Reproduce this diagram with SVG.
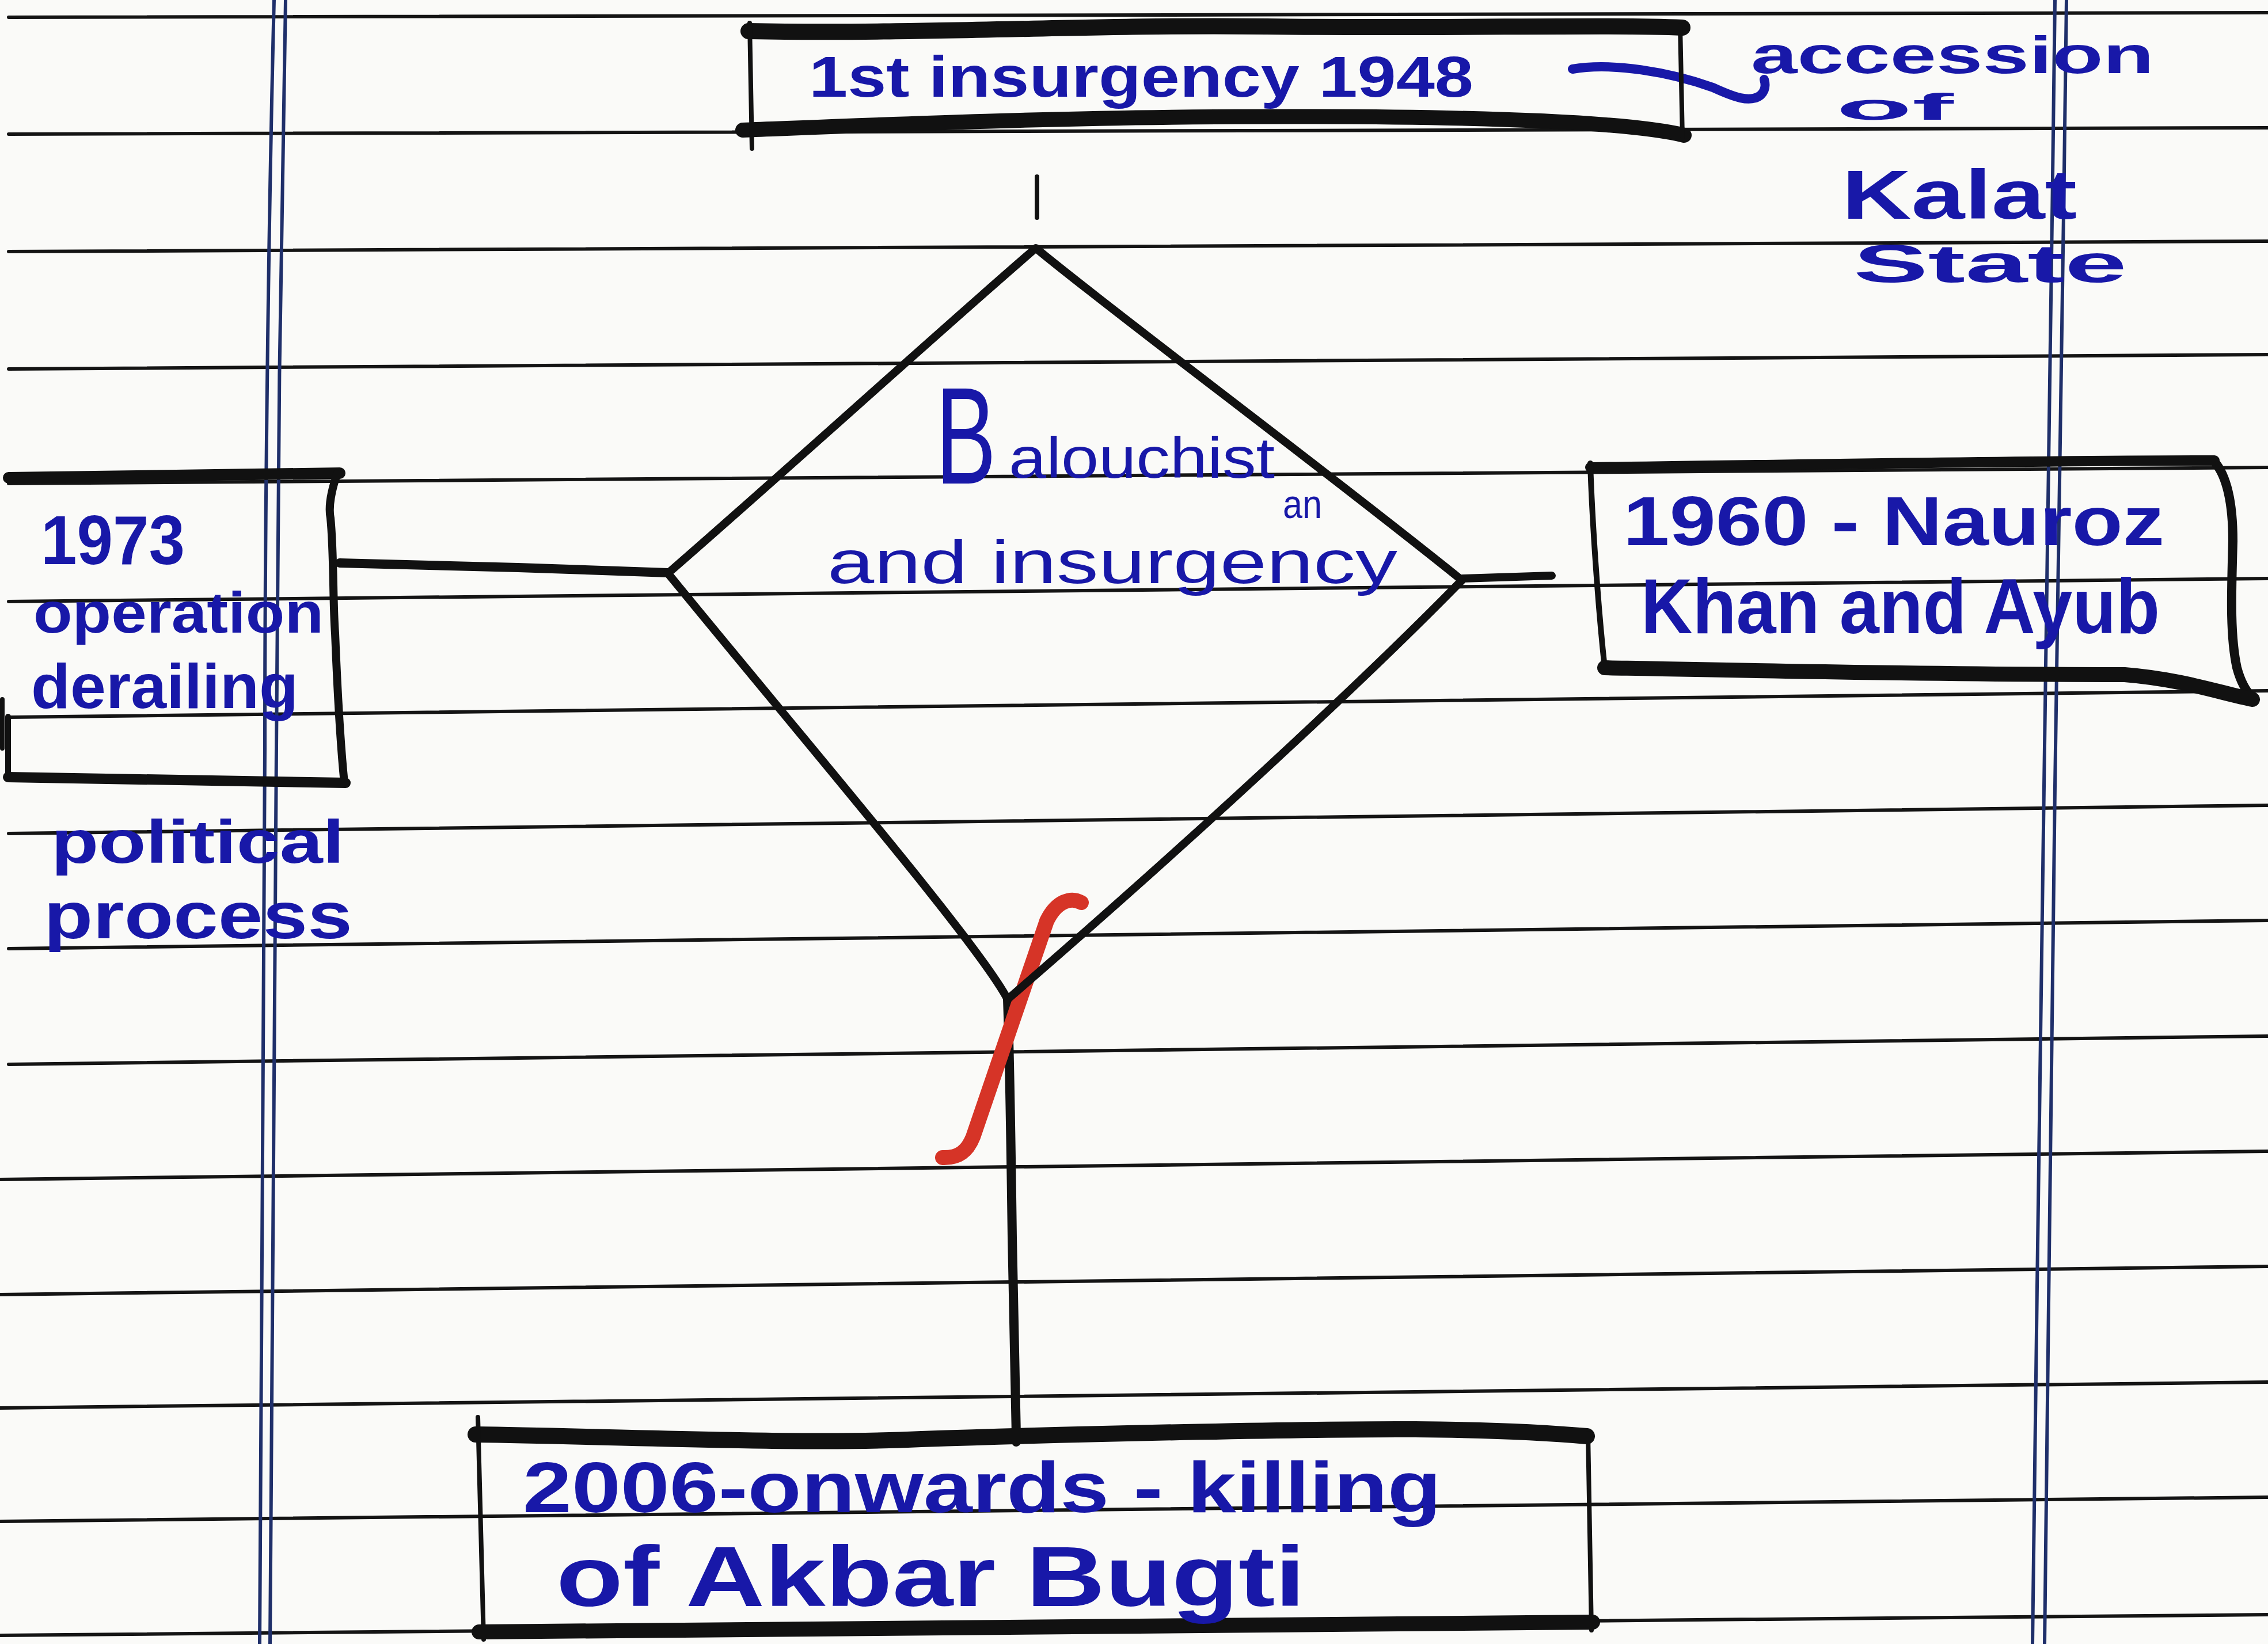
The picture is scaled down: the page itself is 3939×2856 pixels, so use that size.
<svg xmlns="http://www.w3.org/2000/svg" width="3939" height="2856" viewBox="0 0 3939 2856">
  <style>
    .rule { fill: none; stroke: #141414; stroke-width: 6; stroke-linecap: round; }
    .margin { fill: none; stroke: #1f2f6a; stroke-width: 6; }
    .ink { fill: none; stroke: #111; stroke-linecap: round; stroke-linejoin: round; }
    .pen { fill: #1818a8; font-family: "Liberation Sans", "DejaVu Sans", sans-serif; font-weight: 700; }
    .thin { font-weight: 400; }
    .blue { fill: none; stroke: #1818a8; stroke-linecap: round; stroke-linejoin: round; }
  </style>

  <!-- ruled notebook paper -->
  <rect width="3939" height="2856" fill="#fafaf8"/>
  <g id="paper">
    <path class="rule" d="M15,30 L3939,22"/>
    <path class="rule" d="M15,233 L3939,222"/>
    <path class="rule" d="M15,437 L3939,419"/>
    <path class="rule" d="M15,641 L3939,616"/>
    <path class="rule" d="M15,840 L3939,812"/>
    <path class="rule" d="M15,1045 L3939,1005"/>
    <path class="rule" d="M15,1246 L3939,1200"/>
    <path class="rule" d="M15,1448 L3939,1399"/>
    <path class="rule" d="M15,1648 L3939,1599"/>
    <path class="rule" d="M15,1849 L3939,1800"/>
    <path class="rule" d="M0,2049 L3939,2000"/>
    <path class="rule" d="M0,2249 L3939,2200"/>
    <path class="rule" d="M0,2446 L3939,2401"/>
    <path class="rule" d="M0,2643 L3939,2601"/>
    <path class="rule" d="M0,2841 L3939,2805"/>
    <path class="margin" d="M476,0 C466,400 460,900 460,1300 S452,2400 451,2856"/>
    <path class="margin" d="M496,0 C488,400 481,900 480,1300 S471,2400 469,2856"/>
    <path class="margin" d="M3569,0 C3563,500 3553,1100 3550,1366 S3535,2400 3530,2856"/>
    <path class="margin" d="M3589,0 C3583,500 3572,1100 3569,1366 S3556,2400 3551,2856"/>
  </g>

  <!-- connectors -->
  <g id="connectors">
    <path class="blue" stroke-width="16" d="M2731,120 C2800,108 2900,125 2975,152 C3010,168 3040,180 3058,165 C3068,155 3066,145 3064,138"/>
    <path class="ink" stroke-width="8" d="M1801,307 L1801,378"/>
    <path class="ink" stroke-width="16" d="M590,978 L900,986 L1160,995"/>
    <path class="ink" stroke-width="14" d="M2540,1005 L2695,1000"/>
    <path class="ink" stroke-width="16" d="M1750,1736 C1754,1850 1756,2000 1758,2150 S1764,2400 1765,2505"/>
    <path fill="none" stroke="#d63427" stroke-width="26" stroke-linecap="round" stroke-linejoin="round" d="M1878,1568 C1860,1558 1835,1565 1818,1600 L1690,1975 C1680,2000 1665,2012 1637,2011"/>
  </g>

  <!-- 1st insurgency 1948 -->
  <g id="node-1948">
    <path class="ink" stroke-width="28" d="M1300,54 C1600,60 1900,42 2200,46 S2800,42 2922,48"/>
    <path class="ink" stroke-width="26" d="M1290,226 C1500,218 1800,205 2111,203 S2800,205 2925,235"/>
    <path class="ink" stroke-width="8" d="M1302,40 L1306,258"/>
    <path class="ink" stroke-width="8" d="M2918,44 L2922,238"/>
    <text class="pen" x="1405" y="168" font-size="100" textLength="1154" lengthAdjust="spacingAndGlyphs">1st insurgency 1948</text>
  </g>

  <!-- accession of Kalat State -->
  <g id="note-kalat">
    <text class="pen" x="3041" y="127" font-size="90" textLength="700" lengthAdjust="spacingAndGlyphs">accession</text>
    <text class="pen" x="3189" y="208" font-size="65" textLength="204" lengthAdjust="spacingAndGlyphs">of</text>
    <text class="pen" x="3199" y="380" font-size="120" textLength="408" lengthAdjust="spacingAndGlyphs">Kalat</text>
    <text class="pen" x="3219" y="490" font-size="92" textLength="475" lengthAdjust="spacingAndGlyphs">State</text>
  </g>

  <!-- central diamond -->
  <g id="node-balochistan">
    <path class="ink" stroke-width="14" d="M1799,431 C1930,540 2300,815 2539,1008 C2420,1130 2150,1390 1750,1736 C1700,1640 1400,1290 1160,996 C1340,840 1660,550 1799,431 Z"/>
    <text class="pen thin" x="1625" y="840" font-size="240" textLength="105" lengthAdjust="spacingAndGlyphs">B</text>
    <text class="pen thin" x="1752" y="830" font-size="100" textLength="462" lengthAdjust="spacingAndGlyphs">alouchist</text>
    <text class="pen thin" x="2228" y="900" font-size="70" textLength="68" lengthAdjust="spacingAndGlyphs">an</text>
    <text class="pen thin" x="1437" y="1013" font-size="105" textLength="990" lengthAdjust="spacingAndGlyphs">and insurgency</text>
  </g>

  <!-- 1973 operation derailing -->
  <g id="node-1973">
    <path class="ink" stroke-width="20" d="M15,830 L590,822"/>
    <path class="ink" stroke-width="14" d="M586,822 C576,850 570,880 574,900 C580,960 578,1050 582,1100 C586,1200 592,1300 598,1360"/>
    <path class="ink" stroke-width="18" d="M14,1350 C200,1352 400,1356 600,1360"/>
    <path class="ink" stroke-width="10" d="M14,1350 L14,1245"/>
    <path class="ink" stroke-width="8" d="M4,1215 L4,1300"/>
    <text class="pen" x="71" y="980" font-size="120" textLength="250" lengthAdjust="spacingAndGlyphs">1973</text>
    <text class="pen" x="58" y="1099" font-size="100" textLength="504" lengthAdjust="spacingAndGlyphs">operation</text>
    <text class="pen" x="54" y="1230" font-size="110" textLength="464" lengthAdjust="spacingAndGlyphs">derailing</text>
  </g>

  <!-- political process -->
  <g id="note-political">
    <text class="pen" x="89" y="1499" font-size="105" textLength="509" lengthAdjust="spacingAndGlyphs">political</text>
    <text class="pen" x="76" y="1630" font-size="115" textLength="536" lengthAdjust="spacingAndGlyphs">process</text>
  </g>

  <!-- 1960 - Nauroz Khan and Ayub -->
  <g id="node-1960">
    <path class="ink" stroke-width="18" d="M2762,812 C3100,808 3500,800 3846,800"/>
    <path class="ink" stroke-width="10" d="M2762,805 C2765,900 2775,1050 2787,1160"/>
    <path class="ink" stroke-width="16" d="M3846,802 C3870,830 3878,880 3878,940 C3876,1020 3872,1100 3885,1160 C3893,1190 3905,1205 3912,1212"/>
    <path class="ink" stroke-width="26" d="M2787,1160 C3100,1166 3400,1172 3690,1172 C3790,1180 3860,1205 3912,1215"/>
    <text class="pen" x="2819" y="947" font-size="120" textLength="940" lengthAdjust="spacingAndGlyphs">1960 - Nauroz</text>
    <text class="pen" x="2850" y="1100" font-size="135" textLength="901" lengthAdjust="spacingAndGlyphs">Khan and Ayub</text>
  </g>

  <!-- 2006-onwards - killing of Akbar Bugti -->
  <g id="node-2006">
    <path class="ink" stroke-width="28" d="M826,2492 C1100,2496 1400,2510 1600,2500 C1900,2490 2300,2482 2458,2483 C2600,2484 2700,2490 2756,2495"/>
    <path class="ink" stroke-width="8" d="M830,2462 L840,2848"/>
    <path class="ink" stroke-width="8" d="M2758,2490 L2764,2832"/>
    <path class="ink" stroke-width="26" d="M832,2835 C1300,2830 2000,2825 2766,2818"/>
    <text class="pen" x="908" y="2627" font-size="125" textLength="1595" lengthAdjust="spacingAndGlyphs">2006-onwards - killing</text>
    <text class="pen" x="966" y="2790" font-size="148" textLength="1301" lengthAdjust="spacingAndGlyphs">of Akbar Bugti</text>
  </g>
</svg>
